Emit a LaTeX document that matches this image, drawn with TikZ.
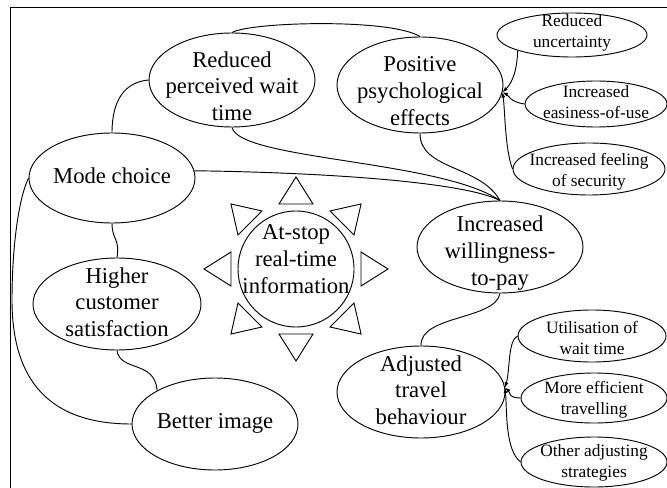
\documentclass[tikz,border=0pt]{standalone}
\usepackage{fontspec}
\setmainfont{Liberation Serif}
\usetikzlibrary{shapes.geometric,arrows.meta,calc}
\begin{document}
\begin{tikzpicture}[x=0.75pt,y=-0.75pt,line width=0.7pt,
  bigel/.style 2 args={ellipse,draw,inner sep=0pt,minimum width=#1*0.75pt,minimum height=#2*0.75pt},
  big/.style={font=\fontsize{17}{20}\selectfont,align=center,inner sep=0pt},
  small/.style={font=\fontsize{13}{16}\selectfont,align=center,inner sep=0pt},
  arr/.style={-{Latex[length=4pt,width=3pt]}}
]
\useasboundingbox (0,0) rectangle (667,488);
\fill[white] (0,0) rectangle (667,488);
\draw (10,488) -- (10,7) -- (667,7);

% nodes
\node[bigel={166}{94}] (rpw) at (232,80) {};
\node[big] at (232,86) {Reduced\\perceived wait\\time};
\node[bigel={166}{96}] (pos) at (420,85) {};
\node[big] at (420,91) {Positive\\psychological\\effects};
\node[bigel={150}{44}] (ru) at (572,35) {};
\node[small] at (572,33) {Reduced\\uncertainty};
\node[bigel={142}{46}] (ei) at (596,104) {};
\node[small] at (596,102) {Increased\\easiness-of-use};
\node[bigel={152}{52}] (fs) at (589,169) {};
\node[small] at (589,172) {Increased feeling\\of security};
\node[bigel={166}{90}] (mc) at (112,178) {};
\node[big] at (112,176) {Mode choice};
\node[bigel={166}{92}] (wtp) at (500,247) {};
\node[big] at (500,253) {Increased\\willingness-\\to-pay};
\node[circle,draw,minimum size=116*0.75pt,inner sep=0pt] (sun) at (296,269) {};
\node[big] at (296,259) {At-stop\\real-time\\information};
\node[bigel={168}{92}] (hcs) at (117,304) {};
\node[big] at (117,302) {Higher\\customer\\satisfaction};
\node[bigel={166}{92}] (bi) at (215,424) {};
\node[big] at (215,423) {Better image};
\node[bigel={168}{92}] (atb) at (421,392) {};
\node[big] at (421,390) {Adjusted\\travel\\behaviour};
\node[bigel={148}{52}] (ut) at (592,336) {};
\node[small] at (592,338) {Utilisation of\\wait time};
\node[bigel={146}{50}] (me) at (594,398) {};
\node[small] at (594,400) {More efficient\\travelling};
\node[bigel={146}{50}] (oa) at (594,462) {};
\node[small] at (594,463) {Other adjusting\\strategies};

% sun rays
\foreach \a in {0,45,...,315}
  \draw ($(sun.center)+(\a:92)$) -- ($(sun.center)+(\a:65)+(\a+90:17)$)
        -- ($(sun.center)+(\a:65)+(\a-90:17)$) -- cycle;

% arrow targets
\coordinate (pa) at (pos.-5);
\coordinate (pb) at (atb.3);

% connectors
\draw (rpw.west) .. controls (125,82) and (112,100) .. (mc.north);
\draw (rpw.north) .. controls (250,22) and (390,18) .. (pos.north);
\draw (rpw.south) .. controls (240,160) and (440,160) .. (wtp.north);
\draw (mc.5) .. controls (300,172) and (460,180) .. (wtp.north);
\draw (pos.south) .. controls (420,170) and (480,165) .. (wtp.north);
\draw (wtp.south) .. controls (495,320) and (420,315) .. (atb.north);
\draw (mc.south) .. controls (112,240) and (120,238) .. (hcs.north);
\draw (hcs.south) .. controls (120,372) and (155,360) .. (bi.150);
\draw (mc.west) .. controls (18,200) and (12,250) .. (12,300)
      .. controls (12,370) and (40,424) .. (bi.west);

\draw[arr] (ru.196) .. controls (517,75) and (510,85) .. (pa);
\draw[arr] (ei.west) .. controls (510,102) and (508,95) .. (pa);
\draw[arr] (fs.west) .. controls (505,150) and (505,110) .. (pa);

\draw[arr] (ut.west) .. controls (508,340) and (510,370) .. (pb);
\draw[arr] (me.west) .. controls (508,398) and (510,392) .. (pb);
\draw[arr] (oa.west) .. controls (505,450) and (507,410) .. (pb);
\end{tikzpicture}
\end{document}
